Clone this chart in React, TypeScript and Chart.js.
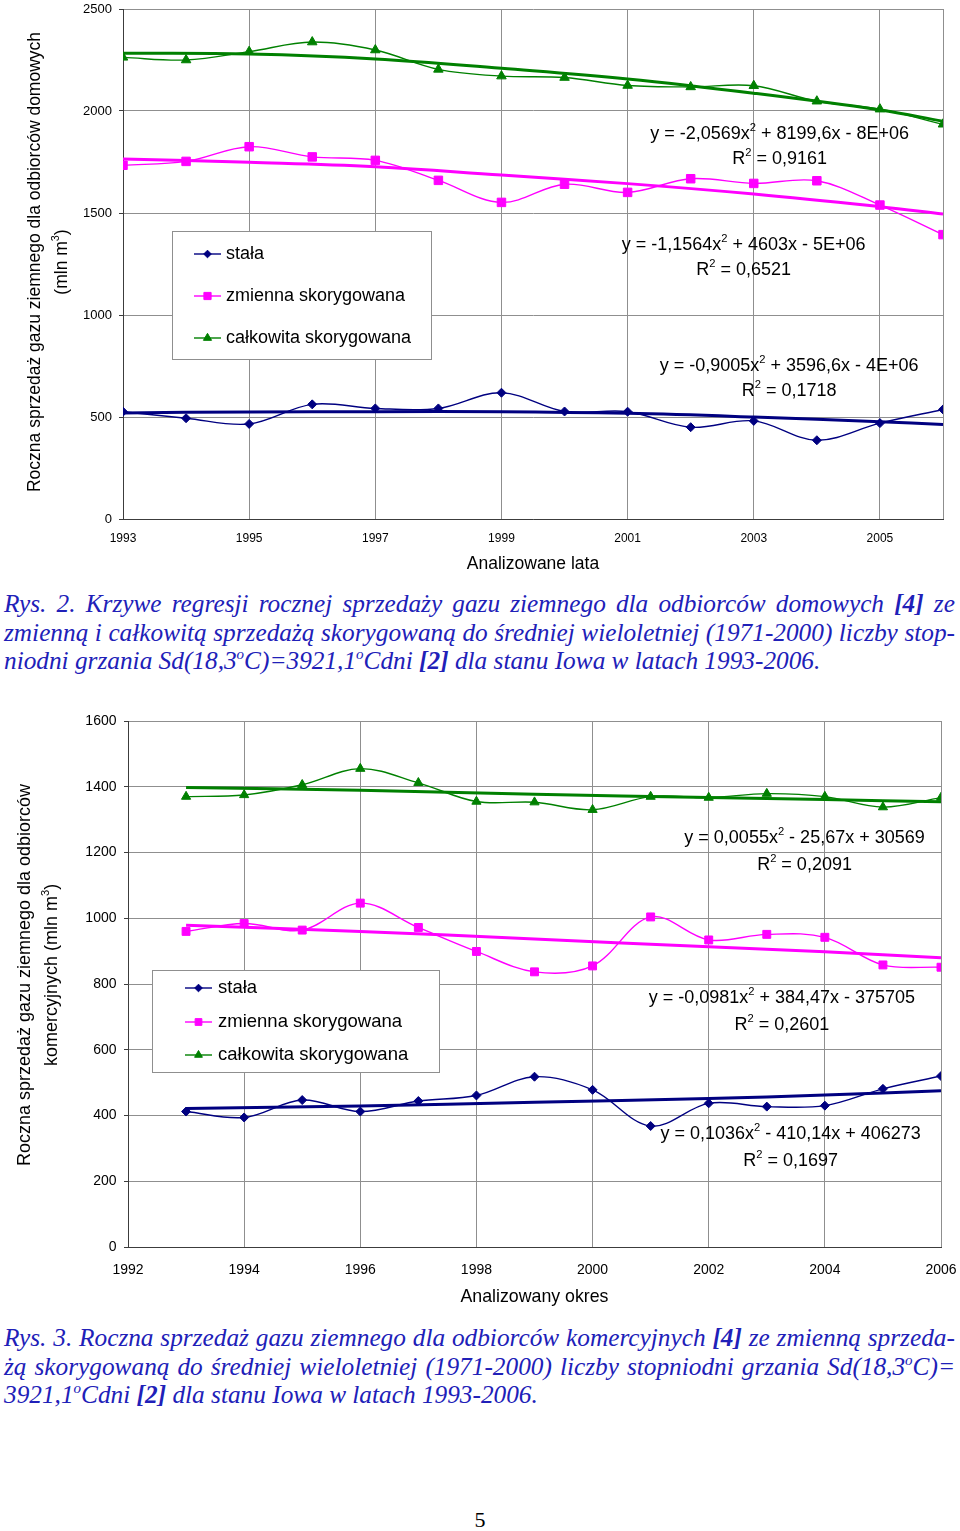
import React, { useEffect, useRef } from 'react';
import { Chart, registerables } from 'chart.js';

Chart.register(...registerables);

const SANS = "'Liberation Sans', Arial, Helvetica, sans-serif";
const SERIF = "'Liberation Serif', 'Times New Roman', serif";
const NAVY = '#000080';
const MAGENTA = '#ff00ff';
const GREEN = '#008000';
const GRID = '#8f8f8f';
const AXIS = '#3c3c3c';
const CAPTION = '#2020b8';

const seriesLabels = ['stała', 'zmienna skorygowana', 'całkowita skorygowana'];

// ---------- Rys. 2 (odbiorcy domowi) ----------
const years1 = [1993, 1994, 1995, 1996, 1997, 1998, 1999, 2000, 2001, 2002, 2003, 2004, 2005, 2006];
const c1Stala = [526, 494, 466, 562, 542, 542, 619, 527, 526, 450, 481, 386, 470, 537];
const c1Zmienna = [1734, 1753, 1825, 1775, 1758, 1660, 1552, 1641, 1601, 1668, 1645, 1658, 1539, 1394];
const c1Calkowita = [2263, 2250, 2291, 2338, 2299, 2204, 2171, 2164, 2125, 2118, 2124, 2048, 2009, 1935];
const c1TrendYears = [1993, 1995, 1997, 1999, 2001, 2003, 2005, 2006];
const c1TrendStala = [520, 525, 526, 526, 518, 500, 477, 463];
const c1TrendZmienna = [1765, 1749, 1727, 1686, 1644, 1593, 1531, 1495];
const c1TrendCalkowita = [2283, 2279, 2255, 2209, 2157, 2087, 2005, 1950];
const c1XTickLabels = [1993, 1995, 1997, 1999, 2001, 2003, 2005];
const c1XGridYears = [1995, 1997, 1999, 2001, 2003, 2005, 2006];
const c1Equations = [
  ['y = -2,0569x^2 + 8199,6x - 8E+06', 'R^2 = 0,9161'],
  ['y = -1,1564x^2 + 4603x - 5E+06', 'R^2 = 0,6521'],
  ['y = -0,9005x^2 + 3596,6x - 4E+06', 'R^2 = 0,1718'],
];
const c1EqAnchorYears = [2003.41, 2002.84, 2003.56];
const c1EqAnchorValues = [1885, 1343, 750];

// ---------- Rys. 3 (odbiorcy komercyjni) ----------
const years2 = [1993, 1994, 1995, 1996, 1997, 1998, 1999, 2000, 2001, 2002, 2003, 2004, 2005, 2006];
const c2Stala = [412, 394, 447, 412, 444, 461, 518, 478, 368, 437, 427, 430, 481, 520];
const c2Zmienna = [960, 984, 964, 1046, 972, 899, 837, 855, 1004, 934, 951, 942, 858, 851];
const c2Calkowita = [1370, 1375, 1406, 1455, 1412, 1355, 1353, 1330, 1370, 1367, 1379, 1370, 1338, 1367];
const c2TrendYears = [1993, 1996, 1999, 2002, 2004, 2006];
const c2TrendStala = [421, 429, 440, 452, 462, 475];
const c2TrendZmienna = [979, 960, 937, 913, 898, 880];
const c2TrendCalkowita = [1398, 1389, 1377, 1367, 1361, 1354];
const c2Equations = [
  ['y = 0,0055x^2 - 25,67x + 30569', 'R^2 = 0,2091'],
  ['y = -0,0981x^2 + 384,47x - 375705', 'R^2 = 0,2601'],
  ['y = 0,1036x^2 - 410,14x + 406273', 'R^2 = 0,1697'],
];
const c2EqAnchorYears = [2003.65, 2003.26, 2003.41];
const c2EqAnchorValues = [1244, 757, 343];

type Seg = { t: string; sup: boolean };
function segs(s: string): Seg[] {
  const out: Seg[] = [];
  let buf = '';
  for (let i = 0; i < s.length; i++) {
    if (s[i] === '^' && i + 1 < s.length) {
      if (buf) out.push({ t: buf, sup: false });
      buf = '';
      out.push({ t: s[i + 1], sup: true });
      i++;
    } else buf += s[i];
  }
  if (buf) out.push({ t: buf, sup: false });
  return out;
}

function drawRich(
  ctx: CanvasRenderingContext2D,
  text: string,
  x: number,
  y: number,
  size: number,
  opts: { align?: 'center' | 'left'; rotate?: number; color?: string } = {}
) {
  const parts = segs(text);
  const base = `${size}px ${SANS}`;
  const sup = `${(size * 0.62).toFixed(1)}px ${SANS}`;
  ctx.save();
  ctx.translate(x, y);
  if (opts.rotate) ctx.rotate(opts.rotate);
  ctx.fillStyle = opts.color || '#000';
  ctx.textBaseline = 'middle';
  ctx.textAlign = 'left';
  let total = 0;
  for (const p of parts) {
    ctx.font = p.sup ? sup : base;
    total += ctx.measureText(p.t).width;
  }
  let cx = opts.align === 'left' ? 0 : -total / 2;
  for (const p of parts) {
    ctx.font = p.sup ? sup : base;
    ctx.fillText(p.t, cx, p.sup ? -size * 0.36 : 0);
    cx += ctx.measureText(p.t).width;
  }
  ctx.restore();
}

function drawMarker(ctx: CanvasRenderingContext2D, style: string, x: number, y: number, r: number, color: string) {
  ctx.save();
  ctx.fillStyle = color;
  ctx.strokeStyle = color;
  ctx.lineWidth = 1;
  ctx.beginPath();
  if (style === 'rectRot') {
    ctx.moveTo(x, y - r);
    ctx.lineTo(x + r, y);
    ctx.lineTo(x, y + r);
    ctx.lineTo(x - r, y);
  } else if (style === 'rect') {
    const s = r * Math.SQRT1_2;
    ctx.rect(x - s, y - s, 2 * s, 2 * s);
  } else {
    const a = (2 * Math.PI) / 3;
    ctx.moveTo(x, y - r);
    ctx.lineTo(x + r * Math.sin(a), y - r * Math.cos(a));
    ctx.lineTo(x + r * Math.sin(2 * a), y - r * Math.cos(2 * a));
  }
  ctx.closePath();
  ctx.fill();
  ctx.stroke();
  ctx.restore();
}

interface OverlayCfg {
  yTitle: { lines: string[]; xs: number[]; cy: number; size: number };
  xTitle: { text: string; cy: number; size: number };
  legend: { left: number; top: number; width: number; height: number; itemYs: number[]; lineX: [number, number]; textX: number; size: number; markerScale: number };
  equations: { lines: string[]; year: number; value: number; gap: number; size: number }[];
}

function makeOverlay(cfg: OverlayCfg) {
  return {
    id: 'overlay',
    afterDraw(chart: any) {
      const ctx: CanvasRenderingContext2D = chart.ctx;
      const xs = chart.scales.x;
      const ys = chart.scales.y;
      const area = chart.chartArea;
      cfg.yTitle.lines.forEach((ln, i) => {
        drawRich(ctx, ln, cfg.yTitle.xs[i], cfg.yTitle.cy, cfg.yTitle.size, { rotate: -Math.PI / 2 });
      });
      drawRich(ctx, cfg.xTitle.text, (area.left + area.right) / 2, cfg.xTitle.cy, cfg.xTitle.size);
      cfg.equations.forEach((eq) => {
        const px = xs.getPixelForValue(eq.year);
        const py = ys.getPixelForValue(eq.value);
        eq.lines.forEach((ln, i) => drawRich(ctx, ln, px, py + i * eq.gap, eq.size));
      });
      const L = cfg.legend;
      ctx.save();
      ctx.fillStyle = '#ffffff';
      ctx.strokeStyle = GRID;
      ctx.lineWidth = 1;
      ctx.fillRect(L.left, L.top, L.width, L.height);
      ctx.strokeRect(L.left + 0.5, L.top + 0.5, L.width, L.height);
      ctx.restore();
      for (let i = 0; i < 3; i++) {
        const ds = chart.data.datasets[i];
        const y = L.itemYs[i];
        ctx.save();
        ctx.strokeStyle = ds.borderColor;
        ctx.lineWidth = 1.4;
        ctx.beginPath();
        ctx.moveTo(L.lineX[0], y);
        ctx.lineTo(L.lineX[1], y);
        ctx.stroke();
        ctx.restore();
        drawMarker(ctx, ds.pointStyle, (L.lineX[0] + L.lineX[1]) / 2, y, ds.pointRadius * L.markerScale, ds.borderColor);
        drawRich(ctx, ds.label, L.textX, y, L.size, { align: 'left' });
      }
    },
  };
}

function pts(xs: number[], ys: number[]) {
  return xs.map((x, i) => ({ x, y: ys[i] }));
}

function dataSeries(label: string, xs: number[], ys: number[], color: string, style: string, radius: number) {
  return {
    label,
    data: pts(xs, ys),
    borderColor: color,
    backgroundColor: color,
    borderWidth: 1.4,
    pointStyle: style,
    pointRadius: radius,
    pointBorderWidth: 1,
    pointBackgroundColor: color,
    pointBorderColor: color,
    tension: 0.35,
    fill: false,
    order: 1,
  };
}

function trendSeries(label: string, xs: number[], ys: number[], color: string) {
  return {
    label,
    data: pts(xs, ys),
    borderColor: color,
    backgroundColor: color,
    borderWidth: 3,
    pointRadius: 0,
    tension: 0.4,
    fill: false,
    order: 2,
  };
}

function noPadY(s: any, w: number) {
  s.width = w;
  s.paddingTop = 0;
  s.paddingBottom = 0;
}
function noPadX(s: any, h: number) {
  s.height = h;
  s.paddingLeft = 0;
  s.paddingRight = 0;
}

function config1(): any {
  return {
    type: 'line',
    data: {
      datasets: [
        dataSeries(seriesLabels[0], years1, c1Stala, NAVY, 'rectRot', 4.5),
        dataSeries(seriesLabels[1], years1, c1Zmienna, MAGENTA, 'rect', 6),
        dataSeries(seriesLabels[2], years1, c1Calkowita, GREEN, 'triangle', 5.5),
        trendSeries('trend stała', c1TrendYears, c1TrendStala, NAVY),
        trendSeries('trend zmienna', c1TrendYears, c1TrendZmienna, MAGENTA),
        trendSeries('trend całkowita', c1TrendYears, c1TrendCalkowita, GREEN),
      ],
    },
    options: {
      responsive: false,
      animation: false,
      devicePixelRatio: 1,
      layout: { padding: { top: 9, right: 17, left: 0, bottom: 0 } },
      plugins: { legend: { display: false }, tooltip: { enabled: false } },
      scales: {
        x: {
          type: 'linear',
          min: 1993,
          max: 2006,
          afterBuildTicks: (s: any) => {
            s.ticks = years1.map((v) => ({ value: v }));
          },
          afterFit: (s: any) => noPadX(s, 66),
          ticks: {
            autoSkip: false,
            maxRotation: 0,
            padding: 12,
            color: '#000',
            font: { family: SANS, size: 12 },
            callback: (v: any) => (c1XTickLabels.includes(Number(v)) ? String(v) : ''),
          },
          grid: {
            color: (c: any) => (c.tick && c1XGridYears.includes(c.tick.value) ? GRID : 'rgba(0,0,0,0)'),
            drawTicks: false,
          },
          border: { color: AXIS, width: 1 },
        },
        y: {
          min: 0,
          max: 2500,
          afterFit: (s: any) => noPadY(s, 123),
          ticks: {
            stepSize: 500,
            padding: 7,
            color: '#000',
            font: { family: SANS, size: 13 },
            callback: (v: any) => String(v),
          },
          grid: { color: GRID, tickLength: 4, tickColor: AXIS },
          border: { color: AXIS, width: 1 },
        },
      },
    },
    plugins: [
      makeOverlay({
        yTitle: {
          lines: ['Roczna sprzedaż gazu ziemnego dla odbiorców domowych', '(mln m^3)'],
          xs: [35, 62],
          cy: 262,
          size: 17.5,
        },
        xTitle: { text: 'Analizowane lata', cy: 564, size: 17.5 },
        legend: { left: 172, top: 231, width: 259, height: 128, itemYs: [254, 296, 338], lineX: [194, 221], textX: 226, size: 18, markerScale: 0.85 },
        equations: c1Equations.map((lines, i) => ({ lines, year: c1EqAnchorYears[i], value: c1EqAnchorValues[i], gap: 25, size: 18 })),
      }),
    ],
  };
}

function config2(): any {
  return {
    type: 'line',
    data: {
      datasets: [
        dataSeries(seriesLabels[0], years2, c2Stala, NAVY, 'rectRot', 4.5),
        dataSeries(seriesLabels[1], years2, c2Zmienna, MAGENTA, 'rect', 5.6),
        dataSeries(seriesLabels[2], years2, c2Calkowita, GREEN, 'triangle', 5.3),
        trendSeries('trend stała', c2TrendYears, c2TrendStala, NAVY),
        trendSeries('trend zmienna', c2TrendYears, c2TrendZmienna, MAGENTA),
        trendSeries('trend całkowita', c2TrendYears, c2TrendCalkowita, GREEN),
      ],
    },
    options: {
      responsive: false,
      animation: false,
      devicePixelRatio: 1,
      layout: { padding: { top: 21, right: 19, left: 0, bottom: 0 } },
      plugins: { legend: { display: false }, tooltip: { enabled: false } },
      scales: {
        x: {
          type: 'linear',
          min: 1992,
          max: 2006,
          afterFit: (s: any) => noPadX(s, 73),
          ticks: {
            stepSize: 2,
            autoSkip: false,
            maxRotation: 0,
            padding: 15,
            color: '#000',
            font: { family: SANS, size: 14 },
            callback: (v: any) => String(v),
          },
          grid: { color: GRID, drawTicks: false },
          border: { color: AXIS, width: 1 },
        },
        y: {
          min: 0,
          max: 1600,
          afterFit: (s: any) => noPadY(s, 128),
          ticks: {
            stepSize: 200,
            padding: 7.5,
            color: '#000',
            font: { family: SANS, size: 14 },
            callback: (v: any) => String(v),
          },
          grid: { color: GRID, tickLength: 4, tickColor: AXIS },
          border: { color: AXIS, width: 1 },
        },
      },
    },
    plugins: [
      makeOverlay({
        yTitle: {
          lines: ['Roczna sprzedaż gazu ziemnego dla odbiorców', 'komercyjnych (mln m^3)'],
          xs: [25, 52],
          cy: 275,
          size: 18,
        },
        xTitle: { text: 'Analizowany okres', cy: 597, size: 17.75 },
        legend: { left: 152, top: 270, width: 287, height: 102, itemYs: [288, 322, 355], lineX: [185, 212], textX: 218, size: 18.5, markerScale: 0.85 },
        equations: c2Equations.map((lines, i) => ({ lines, year: c2EqAnchorYears[i], value: c2EqAnchorValues[i], gap: 27, size: 18 })),
      }),
    ],
  };
}

const capBase: React.CSSProperties = {
  position: 'absolute',
  left: 4,
  width: 951,
  fontFamily: SERIF,
  fontStyle: 'italic',
  fontSize: 25.3,
  lineHeight: '28.5px',
  color: CAPTION,
};
const supStyle: React.CSSProperties = { fontSize: 15, verticalAlign: 'top', lineHeight: '15px', position: 'relative', top: 1 };
const Deg = () => <span style={supStyle}>o</span>;

function JLine({ words }: { words: React.ReactNode[] }) {
  return (
    <div style={{ display: 'flex', justifyContent: 'space-between', whiteSpace: 'nowrap', height: 28.5 }}>
      {words.map((w, i) => (
        <span key={i}>{w}</span>
      ))}
    </div>
  );
}

function splitWords(s: string): React.ReactNode[] {
  return s.split(' ').filter((w) => w.length > 0);
}

export default function App() {
  const r1 = useRef<HTMLCanvasElement>(null);
  const r2 = useRef<HTMLCanvasElement>(null);
  useEffect(() => {
    const c1 = new Chart(r1.current as HTMLCanvasElement, config1());
    const c2 = new Chart(r2.current as HTMLCanvasElement, config2());
    return () => {
      c1.destroy();
      c2.destroy();
    };
  }, []);
  return (
    <div style={{ position: 'absolute', left: 0, top: 0, width: 960, height: 1531, background: '#fff', overflow: 'hidden' }}>
      <canvas ref={r1} width={960} height={585} style={{ position: 'absolute', left: 0, top: 0, width: 960, height: 585 }} />
      <div style={{ ...capBase, top: 589 }}>
        <JLine
          words={[
            ...splitWords('Rys. 2. Krzywe regresji rocznej sprzedaży gazu ziemnego dla odbiorców domowych'),
            <b>[4]</b>,
            'ze',
          ]}
        />
        <JLine words={splitWords('zmienną i całkowitą sprzedażą skorygowaną do średniej wieloletniej (1971-2000) liczby stop-')} />
        <div style={{ height: 28.5, whiteSpace: 'nowrap' }}>
          niodni grzania Sd(18,3<Deg />C)=3921,1<Deg />Cdni <b>[2]</b> dla stanu Iowa w latach 1993-2006.
        </div>
      </div>
      <canvas ref={r2} width={960} height={620} style={{ position: 'absolute', left: 0, top: 700, width: 960, height: 620 }} />
      <div style={{ ...capBase, top: 1323 }}>
        <JLine
          words={[
            ...splitWords('Rys. 3. Roczna sprzedaż gazu ziemnego dla odbiorców komercyjnych'),
            <b>[4]</b>,
            ...splitWords('ze zmienną sprzeda-'),
          ]}
        />
        <JLine
          words={[
            ...splitWords('żą skorygowaną do średniej wieloletniej (1971-2000) liczby stopniodni grzania'),
            <>
              Sd(18,3<Deg />C)=
            </>,
          ]}
        />
        <div style={{ height: 28.5, whiteSpace: 'nowrap' }}>
          3921,1<Deg />Cdni <b>[2]</b> dla stanu Iowa w latach 1993-2006.
        </div>
      </div>
      <div style={{ position: 'absolute', left: 0, width: 960, top: 1506, textAlign: 'center', fontFamily: SERIF, fontSize: 22, lineHeight: '28px', color: '#000' }}>
        5
      </div>
    </div>
  );
}
